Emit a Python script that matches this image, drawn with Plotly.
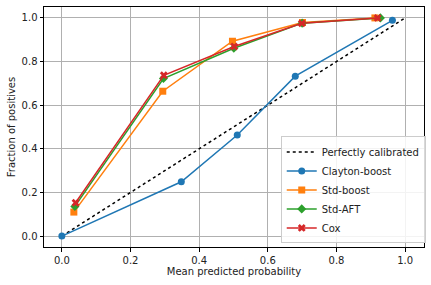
import plotly.graph_objects as go

perfect_x = [0.0, 1.0]
perfect_y = [0.0, 1.0]

clayton_x = [0.0, 0.348, 0.511, 0.680, 0.963]
clayton_y = [0.0, 0.249, 0.463, 0.733, 0.989]

stdboost_x = [0.035, 0.294, 0.497, 0.701, 0.912]
stdboost_y = [0.110, 0.664, 0.893, 0.979, 1.0]

stdaft_x = [0.038, 0.296, 0.501, 0.700, 0.928]
stdaft_y = [0.136, 0.722, 0.861, 0.976, 1.0]

cox_x = [0.040, 0.297, 0.502, 0.699, 0.920]
cox_y = [0.153, 0.737, 0.869, 0.975, 1.0]

x_ticks = [0.0, 0.2, 0.4, 0.6, 0.8, 1.0]
y_ticks = [0.0, 0.2, 0.4, 0.6, 0.8, 1.0]

fig = go.Figure()
fig.add_trace(go.Scatter(x=perfect_x, y=perfect_y, mode="lines", name="Perfectly calibrated",
                         line=dict(color="black", dash="dot", width=1.5)))
series = [
    ("Clayton-boost", clayton_x, clayton_y, "#1f77b4", "circle"),
    ("Std-boost", stdboost_x, stdboost_y, "#ff7f0e", "square"),
    ("Std-AFT", stdaft_x, stdaft_y, "#2ca02c", "diamond"),
    ("Cox", cox_x, cox_y, "#d62728", "x"),
]
for name, xs, ys, c, sym in series:
    fig.add_trace(go.Scatter(x=xs, y=ys, mode="lines+markers", name=name,
                             line=dict(color=c, width=1.5),
                             marker=dict(symbol=sym, size=7, color=c)))

font = dict(family="DejaVu Sans", size=10, color="#222")
axis_common = dict(showgrid=True, gridcolor="#b0b0b0", gridwidth=0.8, zeroline=False,
                   showline=True, linecolor="black", linewidth=1, mirror=True,
                   ticks="outside", ticklen=3.5, tickcolor="black", tickformat=".1f",
                   tickfont=font, automargin=False)
fig.update_xaxes(range=[-0.052, 1.055], tickvals=x_ticks,
                 title=dict(text="Mean predicted probability", font=font, standoff=2),
                 **axis_common)
fig.update_yaxes(range=[-0.05, 1.05], tickvals=y_ticks,
                 title=dict(text="Fraction of positives", font=font, standoff=4),
                 **axis_common)
fig.update_layout(width=431, height=285, margin=dict(l=44, r=5, t=7, b=38),
                  plot_bgcolor="white", paper_bgcolor="white",
                  font=font,
                  legend=dict(x=0.623, y=0.015, xanchor="left", yanchor="bottom",
                              bgcolor="rgba(255,255,255,0.85)", bordercolor="#cccccc", borderwidth=1,
                              font=font, tracegroupgap=0, itemwidth=30))
fig.write_html("out.html", config={"displayModeBar": False},
               post_script="document.body.style.margin='0';")
